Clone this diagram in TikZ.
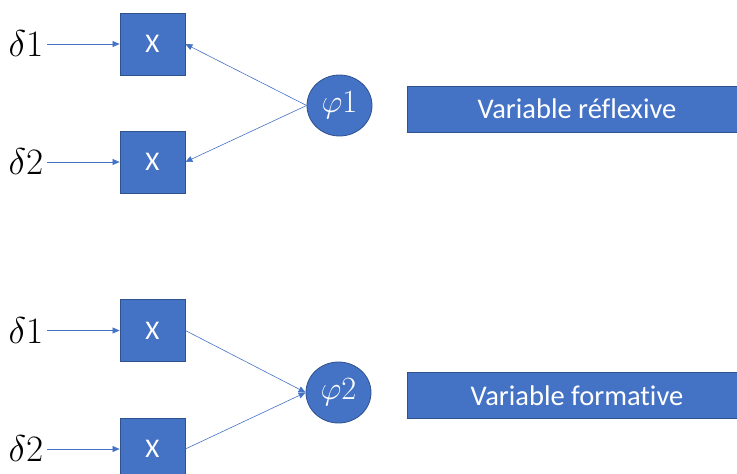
\RequirePackage{fix-cm}
\documentclass[tikz,border=0pt]{standalone}
\usepackage{graphicx}
\usepackage{fontspec}
\setmainfont[Ligatures=NoCommon]{Carlito}
\usetikzlibrary{arrows.meta,shapes.geometric}
\definecolor{ofblue}{HTML}{4472C4}
\definecolor{ofedge}{HTML}{2F528F}
\newcommand{\scmath}[2]{\scalebox{#1}{$#2$}}
\begin{document}
\begin{tikzpicture}[x=1pt,y=-1pt,
  mbox/.style={draw=ofedge,fill=ofblue,line width=0.8pt,minimum width=65pt,minimum height=62pt,inner sep=0pt,text=white,font=\fontsize{27}{30}\selectfont},
  lat/.style={ellipse,draw=ofedge,fill=ofblue,line width=0.8pt,minimum width=65pt,minimum height=61pt,inner sep=0pt,text=white,font=\fontsize{27}{30}\selectfont},
  lab/.style={draw=ofedge,fill=ofblue,line width=0.8pt,minimum width=340pt,minimum height=46pt,inner sep=0pt,text=white,font=\fontsize{28.5}{32}\selectfont},
  err/.style={inner sep=0pt,font=\fontsize{27}{30}\selectfont},
  conn/.style={draw=ofblue,line width=0.6pt,-{Triangle[length=7pt,width=6pt]}}
]
\useasboundingbox (0,0) rectangle (737,474);
% top
\node[mbox] (x1) at (152.5,44) {X};
\node[mbox] (x2) at (152.5,162) {X};
\node[err] (d1) at (26,44) {\scmath{1.38}{\delta 1}};
\node[err] (d2) at (26,162) {\scmath{1.38}{\delta 2}};
\node[lat] (p1) at (339.5,105.5) {\scmath{1.2}{\varphi 1}};
\node[lab] (r1) at (577,109) {Variable réflexive};
\coordinate (d1e) at (47,44);
\coordinate (d2e) at (47,162);
\draw[conn] (d1e) -- (x1.west);
\draw[conn] (d2e) -- (x2.west);
\draw[conn] (p1.west) -- (x1.east);
\draw[conn] (p1.west) -- (x2.east);
% bottom
\node[mbox] (x3) at (152.5,330.5) {X};
\node[mbox] (x4) at (152.5,449) {X};
\node[err] (d3) at (26,330.5) {\scmath{1.38}{\delta 1}};
\node[err] (d4) at (26,449) {\scmath{1.38}{\delta 2}};
\node[lat] (p2) at (338.5,392.5) {\scmath{1.2}{\varphi 2}};
\node[lab] (r2) at (577,395.5) {Variable formative};
\coordinate (d3e) at (47,330.5);
\coordinate (d4e) at (47,449);
\draw[conn] (d3e) -- (x3.west);
\draw[conn] (d4e) -- (x4.west);
\draw[conn] (x3.east) -- (p2.west);
\draw[conn] (x4.east) -- (p2.west);
\end{tikzpicture}
\end{document}
